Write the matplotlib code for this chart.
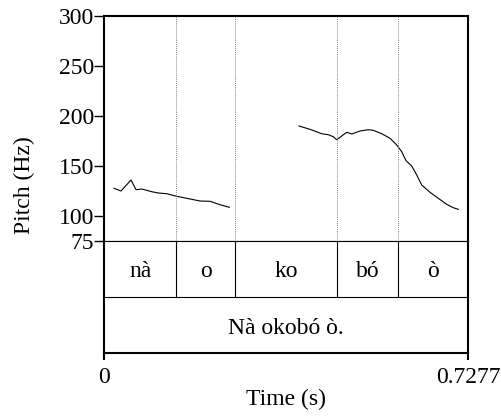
import matplotlib
matplotlib.use('Agg')
import matplotlib.pyplot as plt
import numpy as np

plt.rcParams['font.family'] = ['Liberation Serif', 'DejaVu Serif']

# ── Data ─────────────────────────────────────────────────────────
t_end = 0.7277
boundaries = [0.1446, 0.2613, 0.4664, 0.5872]
syllables = ['nà', 'o', 'ko', 'bó', 'ò']
sentence = 'Nà okobó ò.'

t1 = [0.0200, 0.0340, 0.0540, 0.0640, 0.0754, 0.0954, 0.1086, 0.1253,
      0.1453, 0.1653, 0.1919, 0.2119, 0.2319, 0.2505]
f1 = [127.7, 125.0, 136.0, 126.3, 127.0, 124.3, 123.0, 122.3,
      119.7, 117.7, 115.0, 114.7, 111.3, 108.7]

t2 = [0.3898, 0.4118, 0.4352, 0.4484, 0.4584, 0.4652, 0.4752, 0.4852,
      0.4952, 0.5118, 0.5284, 0.5384, 0.5552, 0.5718, 0.5852, 0.5952,
      0.6038, 0.6152, 0.6252, 0.6352, 0.6517, 0.6683, 0.6851, 0.6983, 0.7083]
f2 = [190.0, 186.7, 182.3, 181.3, 179.3, 176.3, 180.0, 183.7,
      182.0, 185.0, 186.3, 185.7, 182.3, 177.7, 171.0, 164.3,
      155.3, 150.0, 141.0, 131.0, 123.7, 117.7, 111.7, 108.3, 106.7]

yticks = [75, 100, 150, 200, 250, 300]

W, H = 502, 417
fig = plt.figure(figsize=(W / 100, H / 100), dpi=100, facecolor='white')

L, R = 104, 468
top, y75, ytier, ybot = 16, 241, 297, 353
FS = 17
THICK = 1.5
THIN = 0.8

# ── Pitch panel ──────────────────────────────────────────────────
ax = fig.add_axes([L / W, 1 - y75 / H, (R - L) / W, (y75 - top) / H])
ax.set_xlim(0, t_end)
ax.set_ylim(75, 300)
ax.plot(t1, f1, color='black', lw=0.8)
ax.plot(t2, f2, color='black', lw=0.8)
for b in boundaries:
    ax.axvline(b, color='#888888', lw=0.7, ls=(0, (1, 1)))
ax.set_xticks([])
ax.set_yticks(yticks)
ax.set_yticklabels([str(v) for v in yticks], fontsize=FS)
ax.tick_params(axis='y', direction='out', length=7, width=1.0, pad=0)
for s in ['top', 'left', 'right']:
    ax.spines[s].set_linewidth(THICK)
ax.spines['bottom'].set_linewidth(THIN)
# Praat centres the label over the whole picture height
fig.text(24 / W, 1 - 185 / H, 'Pitch (Hz)', rotation=90, ha='center', va='center',
         fontsize=FS)

# ── Text tiers ───────────────────────────────────────────────────
tx = fig.add_axes([L / W, 1 - ybot / H, (R - L) / W, (ybot - y75) / H])
tx.set_xlim(0, t_end)
tx.set_ylim(0, 2)
tx.axhline(1, color='black', lw=THIN)
edges = [0] + boundaries + [t_end]
for b in boundaries:
    tx.plot([b, b], [1, 2], color='black', lw=THIN)
for i, s in enumerate(syllables):
    tx.text((edges[i] + edges[i + 1]) / 2, 1.45, s, ha='center', va='center', fontsize=FS)
tx.text(t_end / 2, 0.43, sentence, ha='center', va='center', fontsize=FS)
tx.set_yticks([])
tx.set_xticks([0, t_end])
tx.set_xticklabels(['0', '0.7277'], fontsize=FS)
tx.tick_params(axis='x', direction='out', length=5, width=1.5, pad=5)
for s in ['bottom', 'left', 'right']:
    tx.spines[s].set_linewidth(THICK)
tx.spines['top'].set_linewidth(THIN)
tx.set_xlabel('Time (s)', fontsize=FS, labelpad=1)

fig.savefig('out.png', dpi=100, facecolor='white')
